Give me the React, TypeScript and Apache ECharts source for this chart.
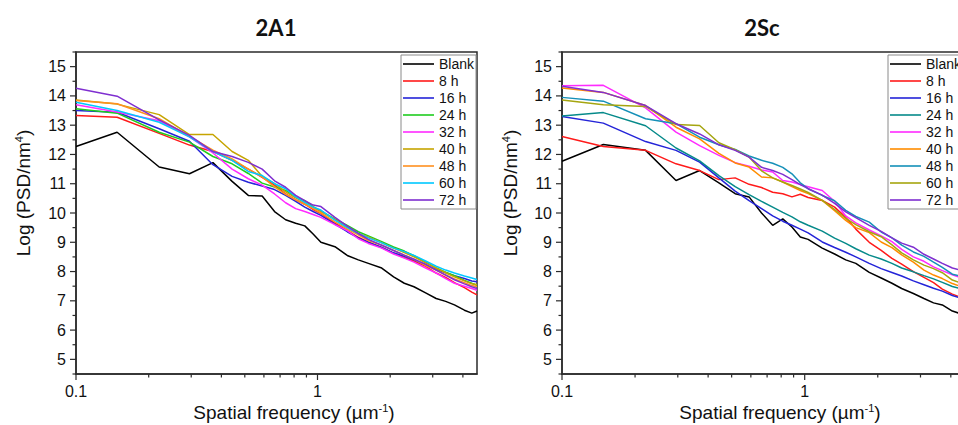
import React, { useEffect, useRef } from "react";
import * as echarts from "echarts";

// Spatial frequency (µm^-1) sampling points shared by all curves
const freq = [0.1, 0.148, 0.221, 0.295, 0.369, 0.443, 0.517, 0.59, 0.664, 0.738, 0.812, 0.886, 0.959, 1.033, 1.181, 1.328, 1.476, 1.624, 1.845, 2.066, 2.288, 2.509, 2.804, 3.1, 3.395, 3.69, 4.059, 4.354, 4.576];

const seriesNames = ["Blank", "8 h", "16 h", "24 h", "32 h", "40 h", "48 h", "60 h", "72 h"];

// Panel 2A1
const blankA = [12.27, 12.76, 11.57, 11.34, 11.72, 11.08, 10.6, 10.58, 10.05, 9.77, 9.65, 9.56, 9.28, 9.0, 8.85, 8.55, 8.4, 8.28, 8.12, 7.82, 7.6, 7.48, 7.27, 7.08, 6.98, 6.86, 6.68, 6.58, 6.65];
const h8A = [13.33, 13.27, 12.72, 12.32, 12.1, 11.8, 11.5, 11.22, 10.95, 10.65, 10.45, 10.3, 10.12, 9.98, 9.65, 9.4, 9.17, 9.0, 8.82, 8.62, 8.48, 8.36, 8.18, 7.95, 7.8, 7.62, 7.45, 7.3, 7.2];
const h16A = [13.5, 13.44, 12.88, 12.45, 11.65, 11.25, 11.05, 10.92, 10.8, 10.6, 10.4, 10.2, 10.05, 9.92, 9.62, 9.36, 9.15, 9.0, 8.82, 8.64, 8.52, 8.4, 8.22, 8.07, 7.96, 7.86, 7.76, 7.68, 7.65];
const h24A = [13.56, 13.41, 12.76, 12.42, 11.93, 11.68, 11.35, 11.02, 10.89, 10.77, 10.55, 10.42, 10.22, 10.06, 9.8, 9.58, 9.36, 9.22, 9.02, 8.84, 8.7, 8.54, 8.32, 8.12, 7.98, 7.86, 7.7, 7.6, 7.53];
const h32A = [13.7, 13.45, 13.15, 12.6, 12.05, 11.5, 11.17, 10.95, 10.65, 10.35, 10.15, 10.05, 9.95, 9.85, 9.6, 9.4, 9.12, 8.96, 8.8, 8.6, 8.46, 8.32, 8.12, 7.95, 7.76, 7.6, 7.5, 7.42, 7.36];
const h40A = [13.86, 13.72, 13.36, 12.68, 12.68, 12.1, 11.8, 11.25, 11.0, 10.72, 10.52, 10.36, 10.2, 10.05, 9.78, 9.5, 9.3, 9.18, 8.98, 8.8, 8.65, 8.5, 8.3, 8.12, 7.96, 7.82, 7.68, 7.58, 7.55];
const h48A = [13.84, 13.73, 13.22, 12.62, 12.15, 11.85, 11.5, 11.23, 10.89, 10.64, 10.45, 10.3, 10.15, 10.0, 9.7, 9.45, 9.25, 9.06, 8.9, 8.72, 8.56, 8.42, 8.2, 8.05, 7.88, 7.75, 7.62, 7.52, 7.48];
const h60A = [13.78, 13.5, 13.1, 12.6, 12.1, 11.8, 11.42, 11.28, 11.0, 10.83, 10.55, 10.36, 10.2, 10.1, 9.76, 9.5, 9.3, 9.15, 8.98, 8.8, 8.68, 8.55, 8.36, 8.18, 8.05, 7.95, 7.85, 7.78, 7.73];
const h72A = [14.26, 13.99, 13.18, 12.65, 12.1, 11.93, 11.73, 11.5, 11.1, 10.88, 10.6, 10.42, 10.27, 10.22, 9.85, 9.55, 9.3, 9.1, 8.9, 8.72, 8.56, 8.42, 8.25, 8.05, 7.88, 7.72, 7.58, 7.48, 7.42];

// Panel 2Sc
const blankS = [11.77, 12.34, 12.14, 11.11, 11.45, 11.03, 10.66, 10.55, 10.0, 9.58, 9.8, 9.52, 9.18, 9.1, 8.8, 8.6, 8.4, 8.28, 7.97, 7.78, 7.6, 7.42, 7.25, 7.08, 6.93, 6.86, 6.65, 6.57, 6.57];
const h8S = [12.61, 12.27, 12.14, 11.68, 11.45, 11.14, 11.2, 10.98, 10.87, 10.71, 10.66, 10.55, 10.64, 10.53, 10.43, 10.2, 9.85, 9.45, 9.0, 8.72, 8.45, 8.25, 8.0, 7.8, 7.62, 7.4, 7.23, 7.13, 7.08];
const h16S = [13.3, 13.07, 12.44, 12.14, 11.74, 11.2, 10.75, 10.42, 10.15, 9.9, 9.72, 9.58, 9.45, 9.32, 9.01, 8.82, 8.66, 8.5, 8.28, 8.1, 7.97, 7.85, 7.68, 7.55, 7.43, 7.33, 7.18, 7.1, 7.06];
const h24S = [13.31, 13.43, 12.98, 12.22, 11.78, 11.28, 10.9, 10.63, 10.4, 10.2, 10.02, 9.87, 9.7, 9.58, 9.38, 9.14, 8.96, 8.78, 8.56, 8.43, 8.28, 8.12, 7.99, 7.86, 7.75, 7.63, 7.49, 7.42, 7.38];
const h32S = [14.35, 14.36, 13.59, 12.76, 12.3, 11.97, 11.72, 11.6, 11.47, 11.4, 11.11, 11.06, 10.97, 10.9, 10.77, 10.4, 9.9, 9.66, 9.42, 9.22, 9.02, 8.76, 8.5, 8.35, 8.16, 8.03, 7.89, 7.8, 7.72];
const h40S = [14.27, 14.12, 13.67, 12.93, 12.53, 12.04, 11.71, 11.57, 11.23, 11.2, 11.06, 10.9, 10.77, 10.66, 10.43, 10.08, 9.75, 9.5, 9.33, 9.01, 8.82, 8.57, 8.32, 8.05, 7.88, 7.76, 7.59, 7.5, 7.45];
const h48S = [13.95, 13.82, 13.22, 13.05, 12.59, 12.33, 12.17, 11.95, 11.8, 11.7, 11.56, 11.34, 11.03, 10.83, 10.6, 10.42, 10.09, 9.88, 9.69, 9.35, 9.15, 8.9, 8.67, 8.52, 8.32, 8.14, 7.91, 7.85, 7.8];
const h60S = [13.86, 13.7, 13.64, 13.02, 12.99, 12.4, 12.16, 11.91, 11.44, 11.2, 11.06, 10.94, 10.82, 10.7, 10.43, 10.12, 9.82, 9.6, 9.36, 9.19, 8.91, 8.64, 8.4, 8.22, 8.1, 7.96, 7.71, 7.62, 7.55];
const h72S = [14.33, 14.12, 13.67, 13.05, 12.7, 12.33, 12.14, 11.91, 11.56, 11.45, 11.32, 11.14, 10.97, 10.83, 10.61, 10.33, 10.04, 9.84, 9.58, 9.37, 9.15, 8.97, 8.83, 8.59, 8.43, 8.28, 8.12, 8.05, 7.98];

const valuesA = [blankA, h8A, h16A, h24A, h32A, h40A, h48A, h60A, h72A];
const valuesS = [blankS, h8S, h16S, h24S, h32S, h40S, h48S, h60S, h72S];

const colorsA = ["#000000", "#ff1a1a", "#2424d8", "#1fcc1f", "#ff2bff", "#c6a400", "#ff9020", "#00c8ff", "#7f2fd0"];
const colorsS = ["#000000", "#ff1a1a", "#2424d8", "#068a8a", "#ff2bff", "#ff8c00", "#1590b8", "#a5a510", "#7f2fd0"];

// axis tick positions
const xMajorTicks = [0.1, 1];
const xMinorTicks = [0.2, 0.3, 0.4, 0.5, 0.6, 0.7, 0.8, 0.9, 2, 3, 4];
const yMajorTicks = [5, 6, 7, 8, 9, 10, 11, 12, 13, 14, 15];
const yMinorTicks = [4.5, 5.5, 6.5, 7.5, 8.5, 9.5, 10.5, 11.5, 12.5, 13.5, 14.5, 15.5];

const titles = ["2A1", "2Sc"];

const FONT = "'Liberation Sans', Arial, sans-serif";
const AXIS_COLOR = "#2b2b2b";

export default function App() {
  const ref = useRef<HTMLDivElement>(null);

  useEffect(() => {
    if (!ref.current) return;
    const chart = echarts.init(ref.current, undefined, { renderer: "svg" });

    const grids = [
      { left: 76, top: 52, width: 401, height: 322 },
      { left: 562, top: 52, width: 403, height: 322 },
    ];

    const tickData = [
      ...xMajorTicks.map((v) => [v, 4.5, 0]),
      ...xMinorTicks.map((v) => [v, 4.5, 1]),
      ...yMajorTicks.map((v) => [0.1, v, 2]),
      ...yMinorTicks.map((v) => [0.1, v, 3]),
    ];

    const prefix = ["", "R:"];

    const series: any[] = [];
    [valuesA, valuesS].forEach((vals, gi) => {
      const cols = gi === 0 ? colorsA : colorsS;
      vals.forEach((arr, si) => {
        series.push({
          type: "line",
          name: prefix[gi] + seriesNames[si],
          xAxisIndex: gi,
          yAxisIndex: gi,
          symbol: "none",
          showSymbol: false,
          clip: true,
          color: cols[si],
          lineStyle: { width: 1.5, color: cols[si] },
          data: freq.map((f, i) => [f, arr[i]]),
          z: 2 + si * 0.01,
        });
      });
      series.push({
        type: "custom",
        name: "ticks" + gi,
        xAxisIndex: gi,
        yAxisIndex: gi,
        silent: true,
        clip: false,
        z: 5,
        data: tickData,
        renderItem: (_p: any, api: any) => {
          const x = api.value(0);
          const y = api.value(1);
          const k = api.value(2);
          const p = api.coord([x, y]);
          let x2 = p[0];
          let y2 = p[1];
          if (k === 0) y2 += 6;
          else if (k === 1) y2 += 3.5;
          else if (k === 2) x2 -= 6;
          else x2 -= 3.5;
          return {
            type: "line",
            shape: { x1: p[0], y1: p[1], x2, y2 },
            style: { stroke: AXIS_COLOR, lineWidth: 1.2 },
          };
        },
      });
    });

    const option: any = {
      animation: false,
      grid: grids.map((g) => ({
        ...g,
        show: true,
        borderColor: AXIS_COLOR,
        borderWidth: 1.5,
        backgroundColor: "transparent",
      })),
      xAxis: grids.map((_, gi) => ({
        type: "log",
        logBase: 10,
        gridIndex: gi,
        min: 0.1,
        max: 4.576,
        axisLine: { show: true, lineStyle: { color: AXIS_COLOR, width: 1.5 } },
        axisTick: { show: false },
        splitLine: { show: false },
        axisLabel: {
          fontSize: 16,
          fontFamily: FONT,
          color: "#111",
          margin: 9,
          formatter: (v: number) =>
            Math.abs(v - 0.1) < 1e-9 ? "0.1" : Math.abs(v - 1) < 1e-9 ? "1" : "",
        },
      })),
      yAxis: grids.map((_, gi) => ({
        type: "value",
        gridIndex: gi,
        min: 4.5,
        max: 15.5,
        interval: 0.5,
        axisLine: { show: true, lineStyle: { color: AXIS_COLOR, width: 1.5 } },
        axisTick: { show: false },
        splitLine: { show: false },
        axisLabel: {
          fontSize: 16,
          fontFamily: FONT,
          color: "#111",
          margin: 10,
          formatter: (v: number) =>
            Math.abs(v - Math.round(v)) < 1e-6 ? String(Math.round(v)) : "",
        },
      })),
      legend: grids.map((_, gi) => ({
        data: seriesNames.map((n) => prefix[gi] + n),
        left: gi === 0 ? 401 : 888,
        top: 55,
        orient: "vertical",
        icon: "rect",
        itemWidth: 31,
        itemHeight: 1.6,
        itemGap: 3,
        padding: [2, 2, 2, 2],
        borderColor: "#8a8a8a",
        borderWidth: 1,
        borderRadius: 0,
        backgroundColor: "#ffffff",
        selectedMode: false,
        formatter: (n: string) => n.replace(/^R:/, ""),
        textStyle: { fontSize: 14, lineHeight: 14, fontFamily: FONT, color: "#111" },
      })),
      graphic: [
        ...titles.map((t, gi) => ({
          type: "text",
          x: gi === 0 ? 276 : 762,
          y: 27,
          style: {
            text: t,
            fontSize: 22,
            fontWeight: "bold",
            fontFamily: "Lato, 'Open Sans', sans-serif",
            fill: "#111",
            align: "center",
            verticalAlign: "middle",
          },
        })),
        ...[0, 1].map((gi) => ({
          type: "text",
          x: gi === 0 ? 23 : 510,
          y: 193,
          rotation: Math.PI / 2,
          style: {
            text: "Log (PSD/nm{sup|4})",
            fontSize: 19,
            fontFamily: FONT,
            fill: "#111",
            align: "center",
            verticalAlign: "middle",
            rich: {
              sup: { fontSize: 11, verticalAlign: "top", fill: "#111", fontFamily: FONT },
            },
          },
        })),
        ...[0, 1].map((gi) => ({
          type: "text",
          x: gi === 0 ? 294 : 780,
          y: 412,
          style: {
            text: "Spatial frequency (µm{sup|-1})",
            fontSize: 19,
            fontFamily: FONT,
            fill: "#111",
            align: "center",
            verticalAlign: "middle",
            rich: {
              sup: { fontSize: 11, verticalAlign: "top", fill: "#111", fontFamily: FONT },
            },
          },
        })),
      ],
      series,
    };

    chart.setOption(option);
    return () => chart.dispose();
  }, []);

  return (
    <div
      style={{
        position: "fixed",
        left: 0,
        top: 0,
        width: 958,
        height: 425,
        overflow: "hidden",
        background: "#fff",
      }}
    >
      <div ref={ref} style={{ width: 985, height: 425 }} />
    </div>
  );
}
